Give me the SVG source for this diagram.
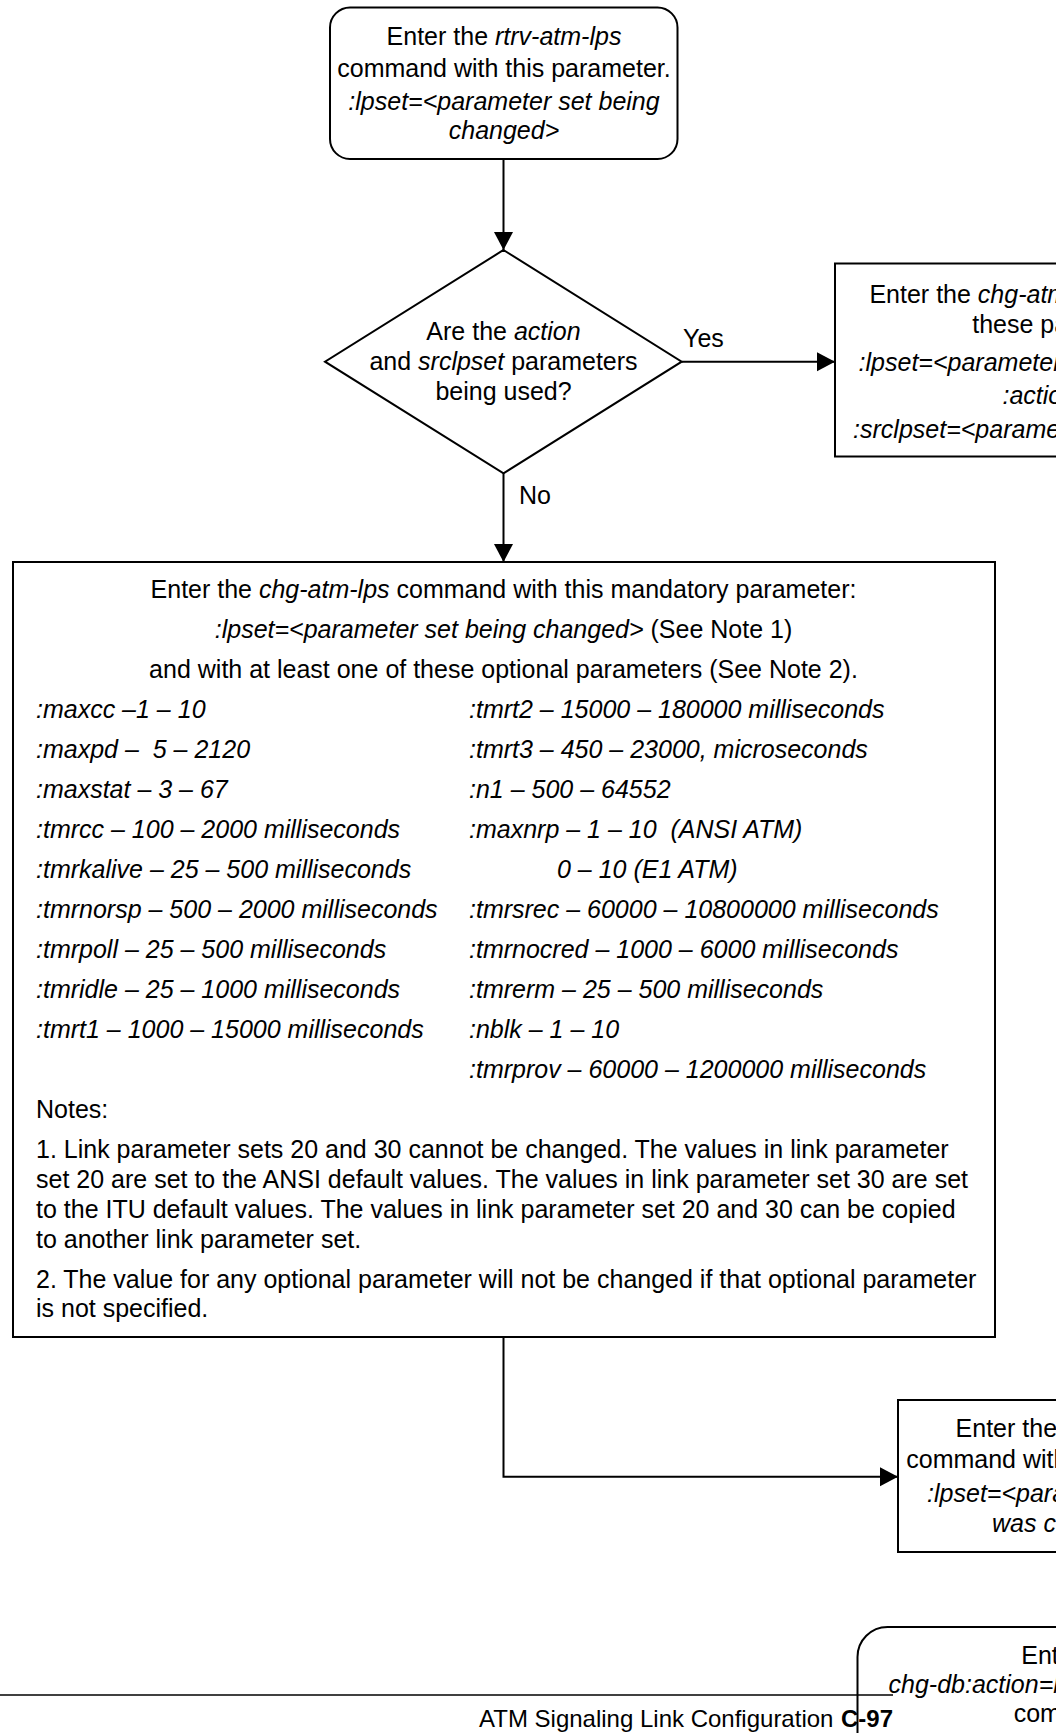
<svg xmlns="http://www.w3.org/2000/svg" width="1056" height="1733" viewBox="0 0 1056 1733">
<style>
text{font-family:"Liberation Sans",Arial,sans-serif;font-size:25px;fill:#000;white-space:pre}
.c{text-anchor:middle}
.i{font-style:italic}
.b{font-weight:bold}
.box{fill:#fff;stroke:#000;stroke-width:2}
.ln{fill:none;stroke:#000;stroke-width:2}
</style>
<defs>
<marker id="arr" markerUnits="userSpaceOnUse" markerWidth="20" markerHeight="20" refX="18" refY="9.5" orient="auto">
<path d="M0,0 L18,9.5 L0,19 Z" fill="#000"/>
</marker>
</defs>
<rect width="1056" height="1733" fill="#fff"/>

<g id="connectors">
<line class="ln" x1="503.5" y1="159" x2="503.5" y2="250" marker-end="url(#arr)"/>
<line class="ln" x1="681.7" y1="361.7" x2="835" y2="361.7" marker-end="url(#arr)"/>
<line class="ln" x1="503.5" y1="473.3" x2="503.5" y2="562" marker-end="url(#arr)"/>
<polyline class="ln" points="503.5,1337 503.5,1476.7 898,1476.7" marker-end="url(#arr)"/>
<text x="683" y="347">Yes</text>
<text x="519" y="504">No</text>
</g>

<g id="start">
<rect class="box" x="330" y="7.5" width="347.5" height="151.5" rx="20" ry="20"/>
<text class="c" x="504" y="45">Enter the <tspan class="i">rtrv-atm-lps</tspan></text>
<text class="c" x="504" y="76.5">command with this parameter.</text>
<text class="c i" x="504" y="109.5">:lpset=&lt;parameter set being</text>
<text class="c i" x="504" y="139">changed&gt;</text>
</g>

<g id="decision">
<polygon class="box" points="503.5,250 681.7,361.7 503.5,473.3 325,361.7"/>
<text class="c" x="503.5" y="340">Are the <tspan class="i">action</tspan></text>
<text class="c" x="503.5" y="370">and <tspan class="i">srclpset</tspan> parameters</text>
<text class="c" x="503.5" y="400">being used?</text>
</g>

<g id="copy">
<rect class="box" x="835" y="263.5" width="476" height="193"/>
<text class="c" x="1073" y="303">Enter the <tspan class="i">chg-atm-lps</tspan> command with</text>
<text class="c" x="1073" y="333">these parameters:</text>
<text class="c i" x="1073" y="371">:lpset=&lt;parameter set being changed&gt;</text>
<text class="c i" x="1073" y="404">:action=copy</text>
<text class="c i" x="1073" y="437.5">:srclpset=&lt;parameter set being copied&gt;</text>
</g>

<g id="change">
<rect class="box" x="13" y="562" width="982" height="775"/>
<text class="c" x="503.5" y="598">Enter the <tspan class="i">chg-atm-lps</tspan> command with this mandatory parameter:</text>
<text class="c" x="503.5" y="638"><tspan class="i">:lpset=&lt;parameter set being changed&gt;</tspan> (See Note 1)</text>
<text class="c" x="503.5" y="678">and with at least one of these optional parameters (See Note 2).</text>
<g class="params">
<text class="i" x="36" y="718">:maxcc –1 – 10</text>
<text class="i" x="36" y="758">:maxpd –  5 – 2120</text>
<text class="i" x="36" y="798">:maxstat – 3 – 67</text>
<text class="i" x="36" y="838">:tmrcc – 100 – 2000 milliseconds</text>
<text class="i" x="36" y="878">:tmrkalive – 25 – 500 milliseconds</text>
<text class="i" x="36" y="918">:tmrnorsp – 500 – 2000 milliseconds</text>
<text class="i" x="36" y="958">:tmrpoll – 25 – 500 milliseconds</text>
<text class="i" x="36" y="998">:tmridle – 25 – 1000 milliseconds</text>
<text class="i" x="36" y="1038">:tmrt1 – 1000 – 15000 milliseconds</text>
<text class="i" x="469" y="718">:tmrt2 – 15000 – 180000 milliseconds</text>
<text class="i" x="469" y="758">:tmrt3 – 450 – 23000, microseconds</text>
<text class="i" x="469" y="798">:n1 – 500 – 64552</text>
<text class="i" x="469" y="838">:maxnrp – 1 – 10  (ANSI ATM)</text>
<text class="i" x="557" y="878">0 – 10 (E1 ATM)</text>
<text class="i" x="469" y="918">:tmrsrec – 60000 – 10800000 milliseconds</text>
<text class="i" x="469" y="958">:tmrnocred – 1000 – 6000 milliseconds</text>
<text class="i" x="469" y="998">:tmrerm – 25 – 500 milliseconds</text>
<text class="i" x="469" y="1038">:nblk – 1 – 10</text>
<text class="i" x="469" y="1078">:tmrprov – 60000 – 1200000 milliseconds</text>
</g>
<text x="36" y="1118">Notes:</text>
<text x="36" y="1158">1. Link parameter sets 20 and 30 cannot be changed. The values in link parameter</text>
<text x="36" y="1188">set 20 are set to the ANSI default values. The values in link parameter set 30 are set</text>
<text x="36" y="1218">to the ITU default values. The values in link parameter set 20 and 30 can be copied</text>
<text x="36" y="1248">to another link parameter set.</text>
<text x="36" y="1288">2. The value for any optional parameter will not be changed if that optional parameter</text>
<text x="36" y="1317">is not specified.</text>
</g>

<g id="verify">
<rect class="box" x="898" y="1400" width="350" height="152"/>
<text class="c" x="1073" y="1437">Enter the <tspan class="i">rtrv-atm-lps</tspan></text>
<text class="c" x="1073" y="1467.5">command with this parameter.</text>
<text class="c i" x="1073" y="1502">:lpset=&lt;parameter set that</text>
<text class="c i" x="1073" y="1532">was changed&gt;</text>
</g>

<g id="backup">
<rect class="box" x="857.5" y="1627" width="429" height="220" rx="30" ry="30"/>
<text class="c" x="1072" y="1664">Enter the</text>
<text class="c i" x="1072" y="1693">chg-db:action=backup:dest=fixed</text>
<text class="c" x="1072" y="1722">command.</text>
</g>

<g id="footer">
<line x1="0" y1="1695" x2="893" y2="1695" stroke="#000" stroke-width="1.5"/>
<text x="479" y="1727" style="font-size:24px">ATM Signaling Link Configuration</text>
<text class="b" x="893" y="1727" style="font-size:24px;text-anchor:end">C-97</text>
</g>
</svg>
